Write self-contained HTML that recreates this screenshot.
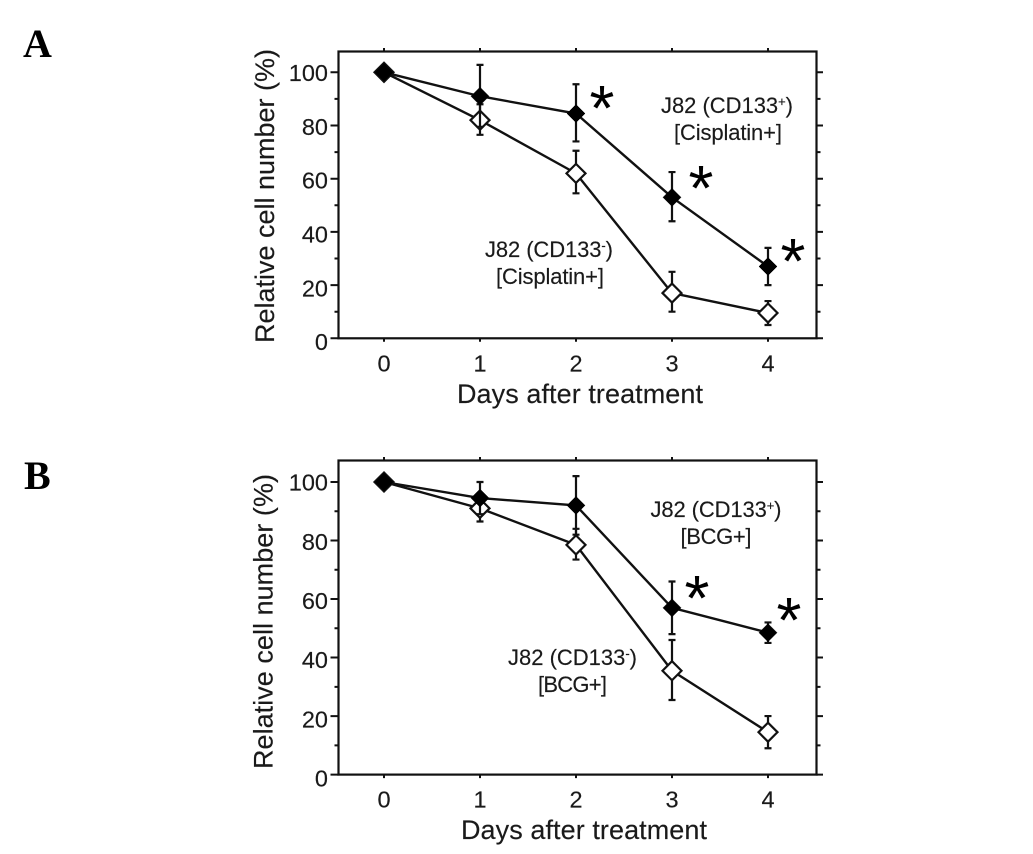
<!DOCTYPE html>
<html>
<head>
<meta charset="utf-8">
<title>Relative cell number after treatment</title>
<style>
html,body{margin:0;padding:0;background:#fff;}
svg{display:block;}
text{font-family:"Liberation Sans",sans-serif;fill:#1a1a1a;}
.letter{font-family:"Liberation Serif",serif;font-weight:bold;font-size:40px;fill:#000;}
.note{font-size:22px;stroke:#1a1a1a;stroke-width:0.15;}
.title{font-size:27px;stroke:#1a1a1a;stroke-width:0.15;}
.star{font-size:64px;fill:#000;}
</style>
</head>
<body>
<svg id="fig" xmlns="http://www.w3.org/2000/svg" width="1033" height="854" viewBox="0 0 1033 854">
  <rect x="0" y="0" width="1033" height="854" fill="#fff"/>
  <text class="letter" x="23" y="57">A</text>
  <text class="letter" x="24" y="489">B</text>
  <g id="panelA"></g>
  <g id="panelB"></g>

  <text class="title" x="457" y="403" textLength="246">Days after treatment</text>
  <text class="title" transform="translate(274,343) rotate(-90)" textLength="294">Relative cell number (%)</text>
  <text class="title" x="461" y="839" textLength="246">Days after treatment</text>
  <text class="title" transform="translate(272.5,769) rotate(-90)" textLength="295">Relative cell number (%)</text>

  <text class="note" x="661" y="113" textLength="132">J82 (CD133<tspan font-size="13" dy="-7">+</tspan><tspan dy="7">)</tspan></text>
  <text class="note" x="674" y="140" textLength="108">[Cisplatin+]</text>
  <text class="note" x="485" y="257" textLength="128">J82 (CD133<tspan font-size="13" dy="-7">-</tspan><tspan dy="7">)</tspan></text>
  <text class="note" x="496" y="284" textLength="108">[Cisplatin+]</text>

  <text class="note" x="650.5" y="517" textLength="131">J82 (CD133<tspan font-size="13" dy="-7">+</tspan><tspan dy="7">)</tspan></text>
  <text class="note" x="680.5" y="544" textLength="71">[BCG+]</text>
  <text class="note" x="508" y="665" textLength="129">J82 (CD133<tspan font-size="13" dy="-7">-</tspan><tspan dy="7">)</tspan></text>
  <text class="note" x="538" y="692" textLength="69">[BCG+]</text>

  <text class="star" x="602" y="130" text-anchor="middle">*</text>
  <text class="star" x="701" y="210" text-anchor="middle">*</text>
  <text class="star" x="793" y="283" text-anchor="middle">*</text>
  <text class="star" x="697" y="620" text-anchor="middle">*</text>
  <text class="star" x="789" y="642" text-anchor="middle">*</text>
</svg>
<script>
var days = [0, 1, 2, 3, 4];
var yTickLabels = [0, 20, 40, 60, 80, 100];
var yMinorTicks = [10, 30, 50, 70, 90];

var aPositive = [100, 91, 84.5, 53, 27];
var aPositiveUpper = [100, 102.8, 95.5, 62.5, 34];
var aPositiveLower = [100, 79.5, 74, 44, 20];
var aNegative = [100, 82, 62, 17, 9.5];
var aNegativeUpper = [100, 88, 70.5, 25, 14];
var aNegativeLower = [100, 76.5, 54.5, 10, 5];

var bPositive = [100, 94.5, 92, 57, 48.5];
var bPositiveUpper = [100, 100, 102, 66, 52];
var bPositiveLower = [100, 89, 82, 48, 45];
var bNegative = [100, 91, 78.5, 35.5, 14.5];
var bNegativeUpper = [100, 96, 84, 46, 20];
var bNegativeLower = [100, 86.5, 73.5, 25.5, 9];

var NS = 'http://www.w3.org/2000/svg';
var INK = '#111';

function mk(parent, tag, attrs) {
  var el = document.createElementNS(NS, tag);
  for (var k in attrs) { el.setAttribute(k, attrs[k]); }
  parent.appendChild(el);
  return el;
}

function xScale(d) { return 384 + d * 96; }

function drawSeries(g, y, prefix, vals, upper, lower, filled) {
  var pts = [];
  for (var i = 0; i < days.length; i++) { pts.push(xScale(days[i]) + ',' + y(vals[i])); }
  var line = mk(g, 'polyline', {points: pts.join(' '), fill: 'none', stroke: INK, 'stroke-width': 2.4});
  
  
  for (var j = 1; j < days.length; j++) {
    var x = xScale(days[j]);
    var yu = y(upper[j]);
    var yl = y(lower[j]);
    var err = mk(g, 'path', {
      d: 'M' + x + ' ' + yu + 'V' + yl + 'M' + (x - 3.5) + ' ' + yu + 'H' + (x + 3.5) + 'M' + (x - 3.5) + ' ' + yl + 'H' + (x + 3.5),
      fill: 'none', stroke: INK, 'stroke-width': 2.2
    });
    
    
  }
  for (var m = 0; m < days.length; m++) {
    var cx = xScale(days[m]);
    var cy = y(vals[m]);
    var r = filled ? 9 : 9.5;
    var dia = mk(g, 'polygon', {
      points: (cx - r) + ',' + cy + ' ' + cx + ',' + (cy - r) + ' ' + (cx + r) + ',' + cy + ' ' + cx + ',' + (cy + r),
      fill: filled ? '#000' : '#fff', stroke: filled ? '#000' : INK, 'stroke-width': filled ? 0.5 : 2.2
    });
    
    
  }
}

function drawAxes(g, y, top, bottom, prefix) {
  var left = 338.5, right = 816.5;
  var frame = mk(g, 'rect', {x: left, y: top, width: right - left, height: bottom - top, fill: 'none', stroke: INK, 'stroke-width': 2.2});
  
  
  for (var i = 0; i < yTickLabels.length; i++) {
    var v = yTickLabels[i];
    var ty = y(v);
    var tick = mk(g, 'path', {d: 'M330.5 ' + ty + 'H' + left + 'M' + right + ' ' + ty + 'H823', stroke: INK, 'stroke-width': 2, fill: 'none'});
    
    
    var lab = mk(g, 'text', {x: 328, y: ty + 8.7 + (100 - v) * 0.032, 'text-anchor': 'end', 'font-size': 23.5, stroke: '#1a1a1a', 'stroke-width': 0.15});
    lab.textContent = String(v);
    
    
  }
  for (var n = 0; n < yMinorTicks.length; n++) {
    var my = y(yMinorTicks[n]);
    var minor = mk(g, 'path', {d: 'M334.5 ' + my + 'H' + left + 'M' + right + ' ' + my + 'H820.5', stroke: INK, 'stroke-width': 2, fill: 'none'});
    
    
  }
  for (var d = 0; d < days.length; d++) {
    var tx = xScale(days[d]);
    var xt = mk(g, 'path', {d: 'M' + tx + ' ' + (top - 3.5) + 'V' + top + 'M' + tx + ' ' + bottom + 'V' + (bottom + 3.5), stroke: INK, 'stroke-width': 2, fill: 'none'});
    
    
    var xl = mk(g, 'text', {x: tx, y: bottom + 33, 'text-anchor': 'middle', 'font-size': 23.5, stroke: '#1a1a1a', 'stroke-width': 0.15});
    xl.textContent = String(days[d]);
    
    
  }
}

function yScaleA(v) { return 338.3 - v * 2.66; }
function yScaleB(v) { return 774.6 - v * 2.926; }

var gA = document.getElementById('panelA');
var gB = document.getElementById('panelB');

drawAxes(gA, yScaleA, 51.5, 338.3, 'panel-a');
drawSeries(gA, yScaleA, 'panel-a-cd133-negative', aNegative, aNegativeUpper, aNegativeLower, false);
drawSeries(gA, yScaleA, 'panel-a-cd133-positive', aPositive, aPositiveUpper, aPositiveLower, true);

drawAxes(gB, yScaleB, 460.5, 774.6, 'panel-b');
drawSeries(gB, yScaleB, 'panel-b-cd133-negative', bNegative, bNegativeUpper, bNegativeLower, false);
drawSeries(gB, yScaleB, 'panel-b-cd133-positive', bPositive, bPositiveUpper, bPositiveLower, true);
</script>
</body>
</html>
